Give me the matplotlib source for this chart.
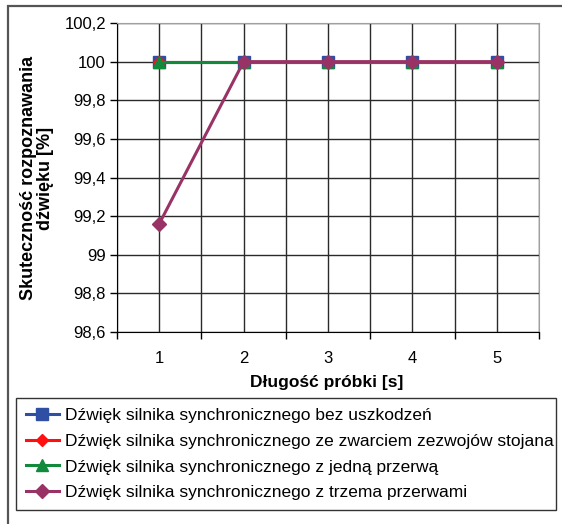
import matplotlib
matplotlib.use("Agg")
import matplotlib.pyplot as plt
from matplotlib.patches import Rectangle
import numpy as np

plt.rcParams['font.family'] = ['Liberation Sans', 'DejaVu Sans']

# --- Data ---
sample_len = [1, 2, 3, 4, 5]
bez_uszkodzen = [100, 100, 100, 100, 100]
zwarcie = [100, 100, 100, 100, 100]
jedna_przerwa = [100, 100, 100, 100, 100]
trzy_przerwy = [99.16, 100, 100, 100, 100]

labels = [
    "Dźwięk silnika synchronicznego bez uszkodzeń",
    "Dźwięk silnika synchronicznego ze zwarciem zezwojów stojana",
    "Dźwięk silnika synchronicznego z jedną przerwą",
    "Dźwięk silnika synchronicznego z trzema przerwami",
]
y_ticks = [98.6, 98.8, 99.0, 99.2, 99.4, 99.6, 99.8, 100.0, 100.2]
y_tick_labels = ["98,6", "98,8", "99", "99,2", "99,4", "99,6", "99,8", "100", "100,2"]

W, H = 562, 524
fig = plt.figure(figsize=(W / 100, H / 100), dpi=100)

# outer frame (only top/left visible in the original)
fig.patches.append(Rectangle((8 / W, -0.05), 1.2, 1 - 6 / H + 0.05, transform=fig.transFigure,
                             fill=False, edgecolor="#555555", linewidth=1.6, zorder=0))

ax = fig.add_axes([117 / W, 1 - 332 / H, (539 - 117) / W, (332 - 23) / H])

series = [
    (bez_uszkodzen, "#2E4FA3", "s", 9),
    (zwarcie, "#FF1010", "D", 6),
    (jedna_przerwa, "#128A3C", "^", 9),
    (trzy_przerwy, "#993366", "D", 7),
]
for (vals, col, mk, ms), lab in zip(series, labels):
    ax.plot(sample_len, vals, color=col, marker=mk, markersize=ms, linewidth=2.2,
            label=lab, zorder=3, clip_on=False)

ax.set_xlim(0.5, 5.5)
ax.set_ylim(98.6, 100.2)
ax.set_yticks(y_ticks)
ax.set_yticklabels(y_tick_labels, fontsize=12)
ax.set_xticks(sample_len)
ax.set_xticklabels([str(v) for v in sample_len], fontsize=12)
ax.set_xticks(np.arange(0.5, 5.6, 1.0), minor=True)
ax.tick_params(axis="x", which="major", length=0, pad=14)
ax.tick_params(axis="x", which="minor", length=5, direction="out", width=1)
ax.tick_params(axis="y", length=5, direction="out", width=1, pad=3)

ax.grid(True, which="both", color="#2a2a2a", linewidth=1.0, zorder=0)
ax.set_axisbelow(True)
for side in ["top", "right"]:
    ax.spines[side].set_color("#a0a0a0")
for side in ["left", "bottom"]:
    ax.spines[side].set_color("black")

fig.text(327 / W, 1 - 382 / H, "Długość próbki [s]", ha="center", va="center",
         fontsize=12.5, fontweight="bold")
fig.text(37 / W, 1 - 178 / H, "Skuteczność rozpoznawania\ndźwięku [%]", ha="center",
         va="center", rotation=90, fontsize=13, fontweight="bold", linespacing=1.0)

leg_top = 1 - 398 / H
leg = fig.legend(loc="upper left", bbox_to_anchor=(16 / W, 8 / H, 540 / W, leg_top - 8 / H),
                 mode="expand", borderaxespad=0, fontsize=12.5, frameon=True, fancybox=False,
                 edgecolor="black", handlelength=1.9, handletextpad=0.35, labelspacing=0.62,
                 borderpad=0.55)
leg.get_frame().set_linewidth(1.0)

fig.savefig("out.png", dpi=100)
